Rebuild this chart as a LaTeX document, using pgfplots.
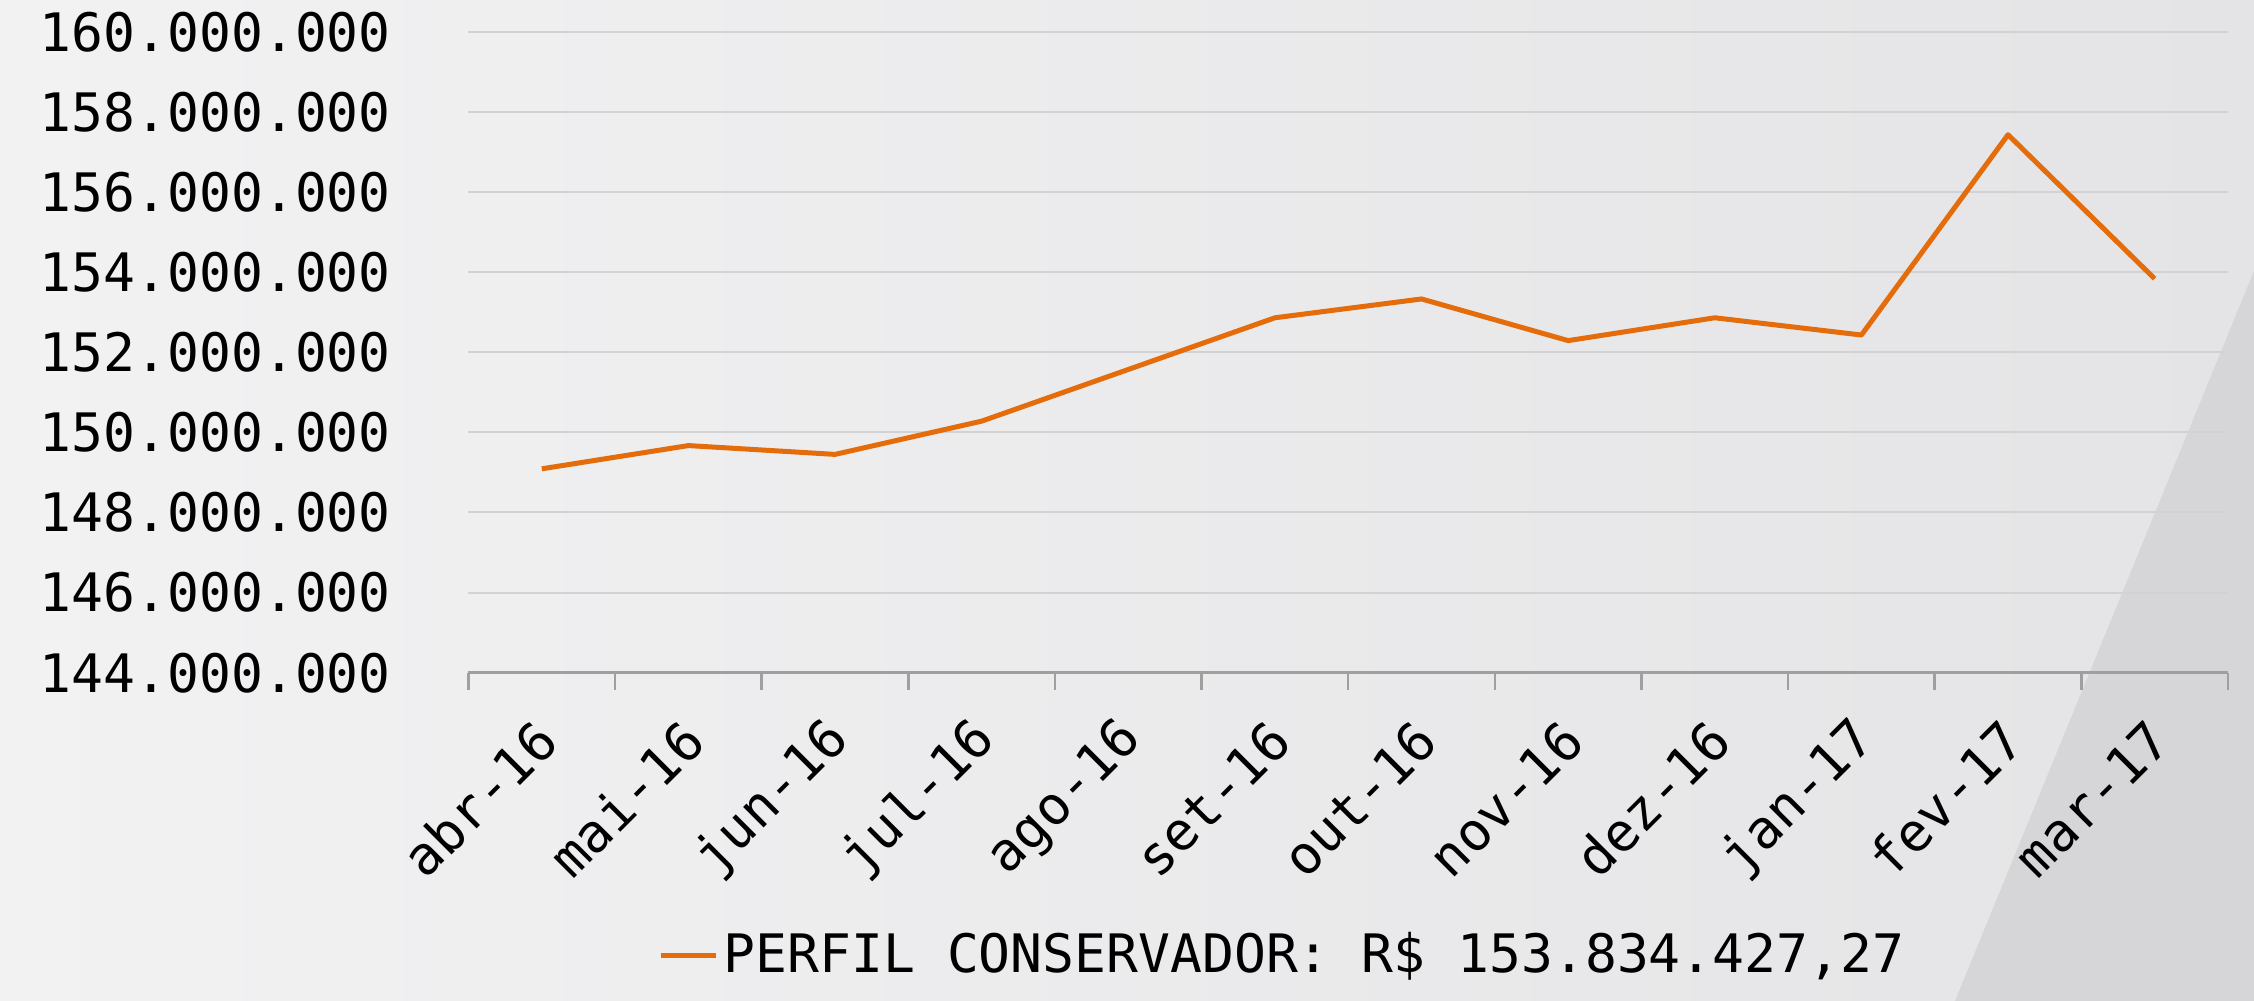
\documentclass[border=0pt]{standalone}
\usepackage{fontspec}
\setmainfont{DejaVu Sans Mono}
\usepackage{pgfplots}
\pgfplotsset{compat=1.18}

\definecolor{linha}{RGB}{228,108,10}
\definecolor{fundoA}{RGB}{242,242,243}
\definecolor{fundoB}{RGB}{228,228,230}
\definecolor{fundoC}{RGB}{214,214,216}
\definecolor{grade}{RGB}{210,210,212}

\begin{document}
\begin{tikzpicture}
  % fundo do slide
  \shade[left color=fundoA, right color=fundoB] (0,0) rectangle (450.8pt,200.2pt);
  \fill[fundoC] (450.8pt,146pt) -- (391pt,0pt) -- (450.8pt,0pt) -- cycle;
  \begin{axis}[
      at={(93.7pt,65.65pt)}, anchor=south west,
      scale only axis, width=351.9pt, height=128.2pt,
      xmin=-0.5, xmax=11.5, ymin=144000000, ymax=160000000,
      axis x line*=bottom, axis y line*=left,
      x axis line style={draw=gray!75, line width=0.5pt},
      y axis line style={draw=none},
      xtick={0,...,11},
      xticklabels={abr-16,mai-16,jun-16,jul-16,ago-16,set-16,out-16,nov-16,dez-16,jan-17,fev-17,mar-17},
      minor xtick={-0.5,0.5,...,11.5},
      major x tick style={draw=none},
      minor x tick style={draw=gray!75, line width=0.5pt},
      xtick align=outside, minor tick length=3.4pt,
      ytick={144000000,146000000,148000000,150000000,152000000,154000000,156000000,158000000,160000000},
      major y tick style={draw=none},
      ymajorgrids, grid style={draw=grade, line width=0.4pt},
      scaled y ticks=false,
      /pgf/number format/.cd, fixed, precision=0, 1000 sep={.}, assume math mode=true, /pgfplots/.cd,
      tick label style={font=\fontsize{10.6pt}{12pt}\selectfont},
      yticklabel style={xshift=-12pt},
      xticklabel style={rotate=45, anchor=east, yshift=-6pt, xshift=-1pt},
      legend style={at={(0.099,-0.4415)}, anchor=west, draw=none, fill=none,
        font=\fontsize{10.6pt}{12pt}\selectfont, nodes={inner xsep=1pt}},
      legend image code/.code={\draw[#1] (0pt,0pt) -- (11pt,0pt);},
    ]
    \addplot[linha, line width=1pt, line join=round] coordinates {
      (0,149090000) (1,149670000) (2,149450000) (3,150280000)
      (4,151570000) (5,152860000) (6,153330000) (7,152290000)
      (8,152860000) (9,152430000) (10,157430000) (11,153834427)
    };
    \addlegendentry{PERFIL CONSERVADOR: R\$ 153.834.427{,}27}
  \end{axis}
  \pgfresetboundingbox
  \useasboundingbox (0,0) rectangle (450.8pt,200.2pt);
\end{tikzpicture}
\end{document}
